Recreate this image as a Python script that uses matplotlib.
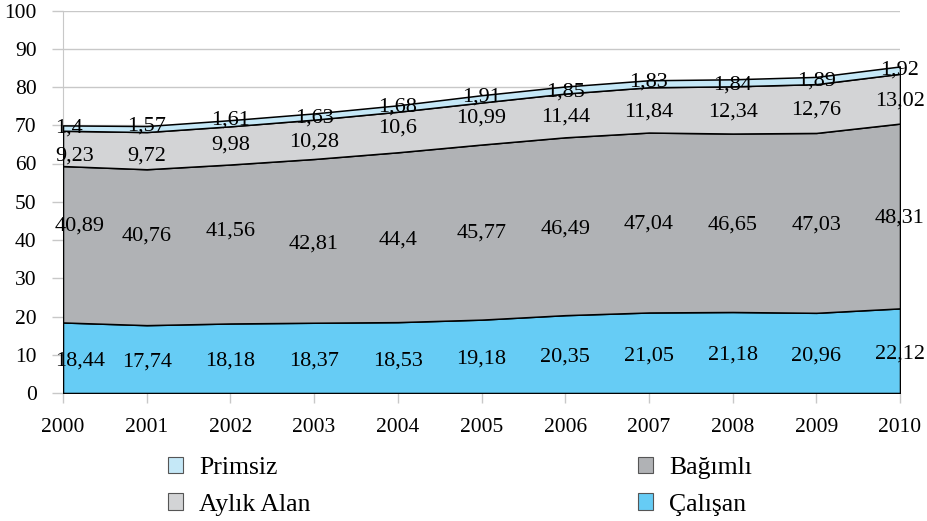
import matplotlib.pyplot as plt
from matplotlib.patches import Patch
import numpy as np

plt.rcParams["font.family"] = ["Liberation Serif", "DejaVu Serif"]

years = [2000, 2001, 2002, 2003, 2004, 2005, 2006, 2007, 2008, 2009, 2010]
calisan = [18.44, 17.74, 18.18, 18.37, 18.53, 19.18, 20.35, 21.05, 21.18, 20.96, 22.12]
bagimli = [40.89, 40.76, 41.56, 42.81, 44.4, 45.77, 46.49, 47.04, 46.65, 47.03, 48.31]
aylik_alan = [9.23, 9.72, 9.98, 10.28, 10.6, 10.99, 11.44, 11.84, 12.34, 12.76, 13.02]
primsiz = [1.4, 1.57, 1.61, 1.63, 1.68, 1.91, 1.85, 1.83, 1.84, 1.89, 1.92]

names = ["Çalışan", "Bağımlı", "Aylık Alan", "Primsiz"]
colors = ["#66CCF5", "#B0B2B5", "#D3D4D6", "#C5E8F7"]

# vertical nudges for the value labels, in pixels (positive = up)
nudges = [
    [-3] * 11,
    [18, 11, 13, -3, -3, -1, -3, -2, -2, -2, -2],
    [-8, -5, 0, -3, 4, 6, -2, -2, -2, -2, -2],
    [0, 3, 3, -1, 1, 2, -2, 2, -2, -1, 0],
]


def fmt(v):
    return f"{v:g}".replace(".", ",")


fig = plt.figure(figsize=(9.27, 5.21), dpi=100)
ax = fig.add_axes([63 / 927, 1 - 393 / 521, 837 / 927, 382.5 / 521])

series = [calisan, bagimli, aylik_alan, primsiz]
ax.stackplot(years, *series, colors=colors, edgecolor="black", linewidth=1.1, zorder=3)

ax.set_xlim(2000, 2010)
ax.set_ylim(0, 100)
ax.set_xticks(years)
ax.set_yticks(range(0, 101, 10))
ax.yaxis.grid(True, color="#C8C8C8", linewidth=1.0, zorder=0)
ax.set_axisbelow(True)
for side in ["top", "right", "bottom"]:
    ax.spines[side].set_visible(False)
ax.spines["left"].set_color("#C8C8C8")
ax.tick_params(axis="y", length=8, width=1.0, color="#C8C8C8", pad=11, labelsize=15.5)
ax.tick_params(axis="x", length=7, width=1.0, color="#C8C8C8", pad=11, labelsize=15.5)

# value labels in the middle of each band
base = np.zeros(len(years))
for vals, nudge in zip(series, nudges):
    vals = np.array(vals)
    mids = base + vals / 2
    for i, (x, y, v) in enumerate(zip(years, mids, vals)):
        ha = "left" if i == 0 else "center"
        dx = -8 if i == 0 else 0
        ax.annotate(fmt(v), (x, y), xytext=(dx * 0.72, nudge[i] * 0.72),
                    textcoords="offset points", ha=ha, va="center",
                    fontsize=16, zorder=5, annotation_clip=False)
    base = base + vals

handles = [Patch(facecolor=c, edgecolor="#555555", linewidth=0.8) for c in colors]
leg_kw = dict(frameon=False, fontsize=18.5, handlelength=0.6, handleheight=0.6,
              handletextpad=0.6, labelspacing=0.55, borderpad=0, borderaxespad=0,
              loc="upper left")
fig.legend([handles[3], handles[2]], [names[3], names[2]],
           bbox_to_anchor=(168 / 927, 1 - 457 / 521), **leg_kw)
fig.legend([handles[1], handles[0]], [names[1], names[0]],
           bbox_to_anchor=(638 / 927, 1 - 457 / 521), **leg_kw)

fig.savefig("out.png", dpi=100)
